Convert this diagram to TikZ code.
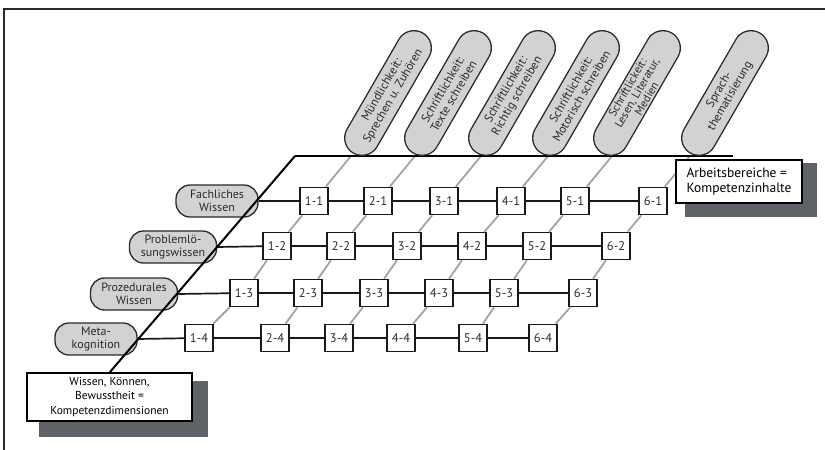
\documentclass[tikz,border=0pt]{standalone}
\usepackage{fontspec}
\setmainfont{PT Sans}
\definecolor{shadowgray}{HTML}{5F6367}
\definecolor{pillgray}{HTML}{D2D2D2}
\definecolor{inkgray}{HTML}{2A2A2A}
\definecolor{colgray}{HTML}{A3A3A3}
\begin{document}
\begin{tikzpicture}[x=1pt,y=-1pt,
  pillrim/.style={draw=inkgray, line width=36pt, line cap=round},
  pillbody/.style={draw=pillgray, line width=33.2pt, line cap=round},
  pilltext/.style={rotate=60, align=center, inner sep=0pt,
    font=\fontsize{12}{12.5}\selectfont, text=inkgray},
  dim/.style={draw=inkgray, line width=1.3pt, fill=pillgray, rounded corners=14pt,
    minimum height=32pt, align=center, inner sep=1pt,
    font=\fontsize{12}{13}\selectfont, text=inkgray},
  cell/.style={draw=black!90, line width=1.6pt, fill=white, minimum width=28pt,
    minimum height=27pt, inner sep=0pt, font=\fontsize{12.5}{13}\selectfont, text=inkgray},
  grayline/.style={draw=colgray, line width=1.8pt},
  rowline/.style={draw=black!90, line width=1.7pt},
  infobox/.style={draw=black, line width=1.2pt, fill=white, inner sep=0pt},
  shadowfill/.style={fill=shadowgray}]
\useasboundingbox (0,0) rectangle (825,450);

% frame
\draw[inkgray, line width=1.2pt] (4,450) -- (4,9) -- (825,9);

% axes coordinates
\coordinate (dtop) at (295,156);
\coordinate (dbot) at (110,372);
\coordinate (bend) at (733,156);

% cells
\foreach \c/\x in {1/314,2/378,3/444,4/511,5/575,6/653}{\node[cell] (c\c-1) at (\x,201) {\c-1};}
\foreach \c/\x in {1/277,2/341,3/407,4/472,5/537,6/616}{\node[cell] (c\c-2) at (\x,246) {\c-2};}
\foreach \c/\x in {1/244,2/308,3/374,4/439,5/504,6/583}{\node[cell] (c\c-3) at (\x,293) {\c-3};}
\foreach \c/\x in {1/199,2/275,3/339,4/401,5/473,6/543}{\node[cell] (c\c-4) at (\x,338) {\c-4};}

% column tops on back line
\foreach \c/\x in {1/351,2/415,3/481,4/548,5/612,6/690}{\coordinate (t\c) at (\x,156);}

% gray column lines
\foreach \c in {1,...,6}{
  \draw[grayline] (t\c) -- (c\c-1) -- (c\c-2) -- (c\c-3) -- (c\c-4);
}

% left labels
\node[dim, minimum width=82pt] (d1) at (217,201) {Fachliches\\Wissen};
\node[dim, minimum width=87pt] (d2) at (173,247) {Problemlö-\\sungswissen};
\node[dim, minimum width=87pt] (d3) at (134,294) {Prozedurales\\Wissen};
\node[dim, minimum width=82pt] (d4) at (96,339) {Meta-\\kognition};

% row lines
\draw[rowline] (d1.east) -- (c1-1) -- (c2-1) -- (c3-1) -- (c4-1) -- (c5-1) -- (c6-1);
\draw[rowline] (d2.east) -- (c1-2) -- (c2-2) -- (c3-2) -- (c4-2) -- (c5-2) -- (c6-2);
\draw[rowline] (d3.east) -- (c1-3) -- (c2-3) -- (c3-3) -- (c4-3) -- (c5-3) -- (c6-3);
\draw[rowline] (d4.east) -- (c1-4) -- (c2-4) -- (c3-4) -- (c4-4) -- (c5-4) -- (c6-4);

% redraw cells on top
\foreach \r in {1,...,4}{\foreach \c in {1,...,6}{\node[cell] at (c\c-\r) {\c-\r};}}

% axes
\draw[black, line width=2pt] (dbot) -- (dtop);
\draw[black, line width=2.6pt] (dtop) -- (bend);

% pills (stadium shapes at 60 degrees)
\foreach \i/\x in {1/388,2/448,3/512,4/576,5/637,6/725}{
  \coordinate (pa\i) at (\x-26,93+45);
  \coordinate (pb\i) at (\x+26,93-45);
  \draw[pillrim] (pa\i) -- (pb\i);
  \draw[pillbody] (pa\i) -- (pb\i);
}
\node[pilltext] (p1) at (388,93) {Mündlichkeit:\\Sprechen u. Zuhören};
\node[pilltext] (p2) at (448,93) {Schriftlichkeit:\\Texte schreiben};
\node[pilltext] (p3) at (512,93) {Schriftlichkeit:\\Richtig schreiben};
\node[pilltext] (p4) at (576,93) {Schriftlichkeit:\\Motorisch schreiben};
\node[pilltext, font=\fontsize{11.5}{11}\selectfont] (p5) at (637,93) {Schriftlickeit:\\Lesen, Literatur,\\Medien};
\node[pilltext] (p6) at (725,93) {Sprach-\\thematisierung};

% info boxes
\fill[shadowfill] (39,381) rectangle (208,437);
\node[infobox, minimum width=165pt, minimum height=48pt, align=center,
  font=\fontsize{11.5}{14.5}\selectfont] (kd) at (109.5,397) {Wissen, Können,\\Bewusstheit =\\Kompetenzdimensionen};
\fill[shadowfill] (685,163) rectangle (817,217);
\node[infobox, minimum width=126pt, minimum height=43pt, align=left,
  font=\fontsize{13.5}{15.5}\selectfont] (ki) at (739,181.5) {Arbeitsbereiche =\\Kompetenzinhalte};
\end{tikzpicture}
\end{document}
